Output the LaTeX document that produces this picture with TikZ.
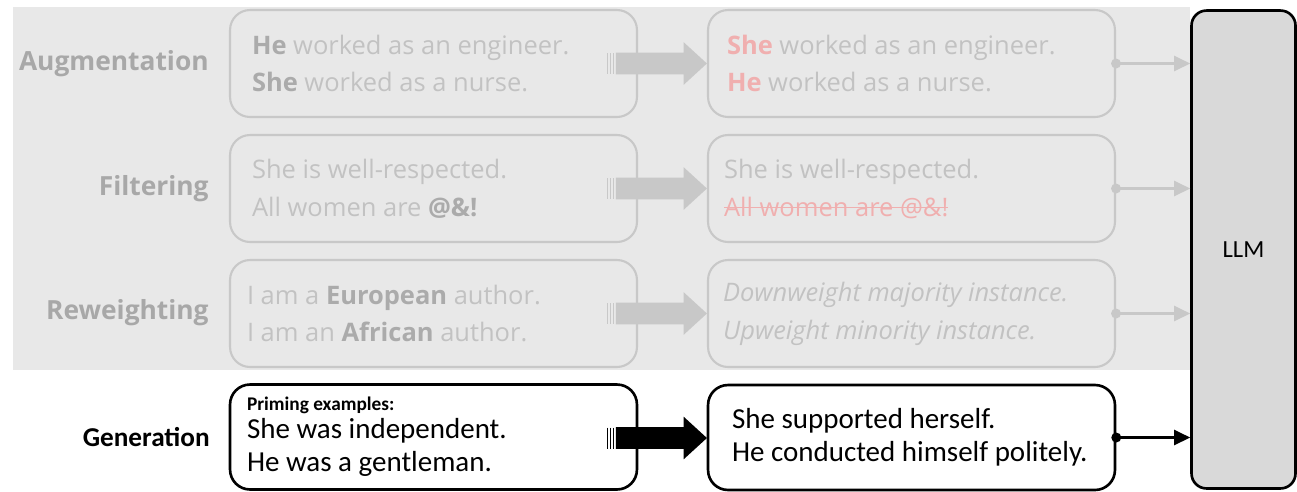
\documentclass[tikz,border=0pt]{standalone}
\usepackage{fontspec}
\setmainfont{Open Sans}
\newfontfamily\calfont{Carlito}
\usepackage{tikz}
\usetikzlibrary{arrows.meta,calc,shapes.arrows}
\definecolor{BgGrey}{HTML}{E8E8E8}
\definecolor{LineGrey}{HTML}{C8C8C8}
\definecolor{TextGrey}{HTML}{C2C2C2}
\definecolor{BoldGrey}{HTML}{ABABAB}
\definecolor{LabelGrey}{HTML}{A8A8A8}
\definecolor{SoftRed}{HTML}{F0AFAF}
\definecolor{LlmFill}{HTML}{D9D9D9}
\newcommand\crossout[1]{\setbox0\hbox{#1}\rlap{\rule[0.3em]{\wd0}{0.07em}}\box0}
\newcommand\plainspaces{\spaceskip=0pt\xspaceskip=0pt\relax}

\tikzset{
    greybox/.style={draw=LineGrey, line width=1.2pt, rounded corners=0.4cm,
        minimum width=8.14cm, minimum height=2.14cm, inner xsep=0.44cm,
        text width=7.26cm, align=left, text=TextGrey,
        execute at begin node=\plainspaces,
        font=\fontsize{14.5}{21.6}\selectfont},
    blackbox/.style={draw=black, line width=1.5pt, rounded corners=0.4cm,
        fill=white, minimum width=8.14cm, minimum height=2.1cm,
        align=left, execute at begin node=\plainspaces,
        font=\calfont\fontsize{16.5}{18.8}\selectfont},
    fatarrow/.style={single arrow, minimum height=1.82cm, minimum width=0.84cm,
        single arrow head extend=0.21cm, single arrow tip angle=85,
        inner xsep=0pt, inner ysep=0.21cm, draw=none},
    lbl/.style={anchor=east, inner sep=0pt, text=LabelGrey,
        font=\bfseries\fontsize{15}{17}\selectfont},
    conn/.style={line width=1.3pt, -{Triangle[length=0.32cm, width=0.3cm]}},
}

\begin{document}
\begin{tikzpicture}[x=0.02cm, y=-0.02cm]
    \useasboundingbox (0,0) rectangle (1297,491);
    %%Background
    \fill[BgGrey] (13,7) rectangle (1190,370);
    %%LLM
    \node[draw=black, line width=1.5pt, fill=LlmFill, rounded corners=0.3cm,
        minimum width=2.08cm, minimum height=9.56cm,
        font=\calfont\fontsize{14}{17}\selectfont] (llm) at (1243.5,249.5) {LLM};
    %%Labels
    \node[lbl] (lAug) at (209,64) {Augmentation};
    \node[lbl] (lFil) at (209,189) {Filtering};
    \node[lbl] (lRew) at (209,313) {Reweighting};
    \node[lbl, text=black, font=\calfont\bfseries\fontsize{15.5}{18}\selectfont] (lGen) at (210,437) {Generation};
    %%Augmentation
    \node[greybox] (inA) at (433.5,63.5)
        {{\bfseries\color{BoldGrey}He} worked as an engineer.\\
         {\bfseries\color{BoldGrey}She} worked as a nurse.};
    \node[greybox, inner xsep=0.38cm, text width=7.38cm] (outA) at (911.5,63.5)
        {{\bfseries\color{SoftRed}She} worked as an engineer.\\
         {\bfseries\color{SoftRed}He} worked as a nurse.};
    %%Filtering
    \node[greybox] (inF) at (433.5,188.5)
        {She is well-respected.\\
         All women are {\bfseries\color{BoldGrey}@\&!}};
    \node[greybox, inner xsep=0.32cm, text width=7.5cm] (outF) at (911.5,188.5)
        {She is well-respected.\\
         \textcolor{SoftRed}{\crossout{All women are @\&!}}};
    %%Reweighting
    \node[greybox, inner xsep=0.34cm, text width=7.46cm] (inR) at (433.5,313.5)
        {I am a {\bfseries\color{BoldGrey}European} author.\\
         I am an {\bfseries\color{BoldGrey}African} author.};
    \node[greybox, inner xsep=0.3cm, text width=7.54cm,
        font=\itshape\fontsize{14.5}{21.6}\selectfont] (outR) at (911.5,313.5)
        {Downweight majority instance.\\
         Upweight minority instance.};
    %%Generation
    \node[blackbox, inner xsep=0.34cm, text width=7.46cm] (inG) at (433.5,437)
        {{\bfseries\fontsize{11}{12}\selectfont Priming examples:}\\[-3pt]
         She was independent.\\
         He was a gentleman.};
    \node[blackbox, inner xsep=0.48cm, text width=7.18cm] (outG) at (911.5,437.5)
        {She supported herself.\\
         He conducted himself politely.};
    %%Block arrows
    \node[fatarrow, fill=LineGrey] (aA) at (655.5,63.5) {};
    \node[fatarrow, fill=LineGrey] (aF) at (655.5,188.5) {};
    \node[fatarrow, fill=LineGrey] (aR) at (655.5,313.5) {};
    \node[fatarrow, fill=black] (aG) at (655.5,438) {};
    \foreach \a/\c in {aA/LineGrey, aF/LineGrey, aR/LineGrey, aG/black} {
        \draw[\c, line width=0.6pt] ($(\a.west)+(-2.5,-10.5)$) -- ++(0,21);
        \draw[\c, line width=0.6pt] ($(\a.west)+(-5.5,-10.5)$) -- ++(0,21);
        \draw[\c, line width=0.6pt] ($(\a.west)+(-8,-10.5)$) -- ++(0,21);
    }
    %%To the LLM
    \draw[conn, LineGrey] (outA.east) -- (outA.east -| llm.west);
    \draw[conn, LineGrey] (outF.east) -- (outF.east -| llm.west);
    \draw[conn, LineGrey] (outR.east) -- (outR.east -| llm.west);
    \draw[conn, black] (outG.east) -- (outG.east -| llm.west);
    \fill[LineGrey] (outA.east) circle (0.1cm);
    \fill[LineGrey] (outF.east) circle (0.1cm);
    \fill[LineGrey] (outR.east) circle (0.1cm);
    \fill[black] (outG.east) circle (0.1cm);
\end{tikzpicture}
\end{document}
